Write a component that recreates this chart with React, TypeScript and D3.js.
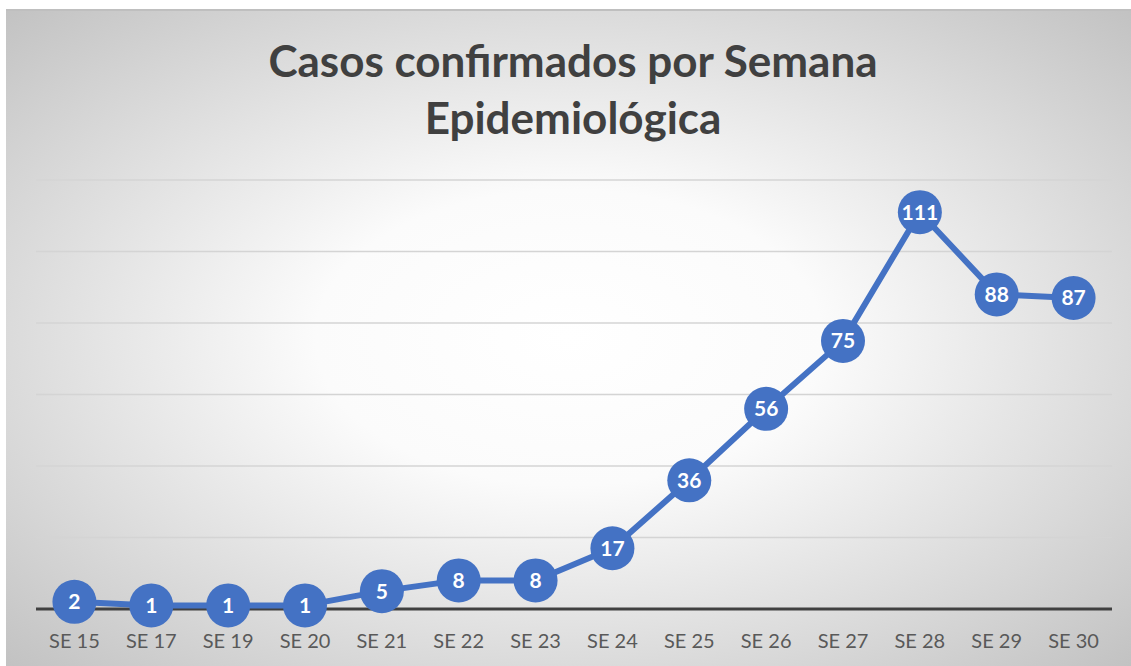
import React from "react";
import * as d3 from "d3";

const categories = ["SE 15","SE 17","SE 19","SE 20","SE 21","SE 22","SE 23","SE 24","SE 25","SE 26","SE 27","SE 28","SE 29","SE 30"];
const casos = [2,1,1,1,5,8,8,17,36,56,75,111,88,87];
const gridTicks = [20,40,60,80,100,120];
const titleLines = ["Casos confirmados por Semana","Epidemiológica"];

const W = 1131, H = 666;
const plotLeft = 36, plotRight = 1112, plotTop = 180, plotBottom = 609;

export default function App() {
  const x = d3.scaleBand<string>().domain(categories).range([plotLeft, plotRight]).padding(0);
  const y = d3.scaleLinear().domain([0, 120]).range([plotBottom, plotTop]);
  const cx = (c: string) => (x(c) as number) + x.bandwidth() / 2;
  const line = d3.line<number>().x((_, i) => cx(categories[i])).y(d => y(d));
  const font = "Lato, 'Open Sans', sans-serif";
  return (
    <svg width={W} height={H} style={{ position: "absolute", left: 0, top: 0 }}>
      <defs>
        <radialGradient id="bg" cx="50%" cy="50%" r="75%" gradientUnits="objectBoundingBox">
          <stop offset="0%" stopColor="#ffffff" />
          <stop offset="30%" stopColor="#fbfbfb" />
          <stop offset="100%" stopColor="#bdbdbd" />
        </radialGradient>
      </defs>
      <rect x={0} y={0} width={W} height={H} fill="#ffffff" />
      <rect x={6} y={9} width={W - 6} height={H - 9} fill="url(#bg)" />
      <line x1={6} x2={W} y1={10} y2={10} stroke="#bfbfbf" strokeWidth={2} />
      {titleLines.map((t, i) => (
        <text key={t} x={573} y={77 + i * 57} textAnchor="middle" fontFamily={font} fontWeight={700} fontSize={44} fill="#404040">{t}</text>
      ))}
      {gridTicks.map(v => (
        <line key={v} x1={plotLeft} x2={plotRight} y1={y(v)} y2={y(v)} stroke="#d4d4d4" strokeWidth={1.3} />
      ))}
      <line x1={plotLeft} x2={plotRight} y1={y(0)} y2={y(0)} stroke="#404040" strokeWidth={3} />
      {categories.map(c => (
        <text key={c} x={cx(c)} y={648} textAnchor="middle" fontFamily={font} fontSize={20} fill="#595959">{c}</text>
      ))}
      <path d={line(casos) || ""} fill="none" stroke="#4472C4" strokeWidth={6} strokeLinejoin="round" />
      {casos.map((v, i) => (
        <g key={i}>
          <circle cx={cx(categories[i])} cy={y(v)} r={22} fill="#4472C4" />
          <text x={cx(categories[i])} y={y(v) + 7.5} textAnchor="middle" fontFamily={font} fontWeight={700} fontSize={21} fill="#ffffff">{v}</text>
        </g>
      ))}
    </svg>
  );
}
